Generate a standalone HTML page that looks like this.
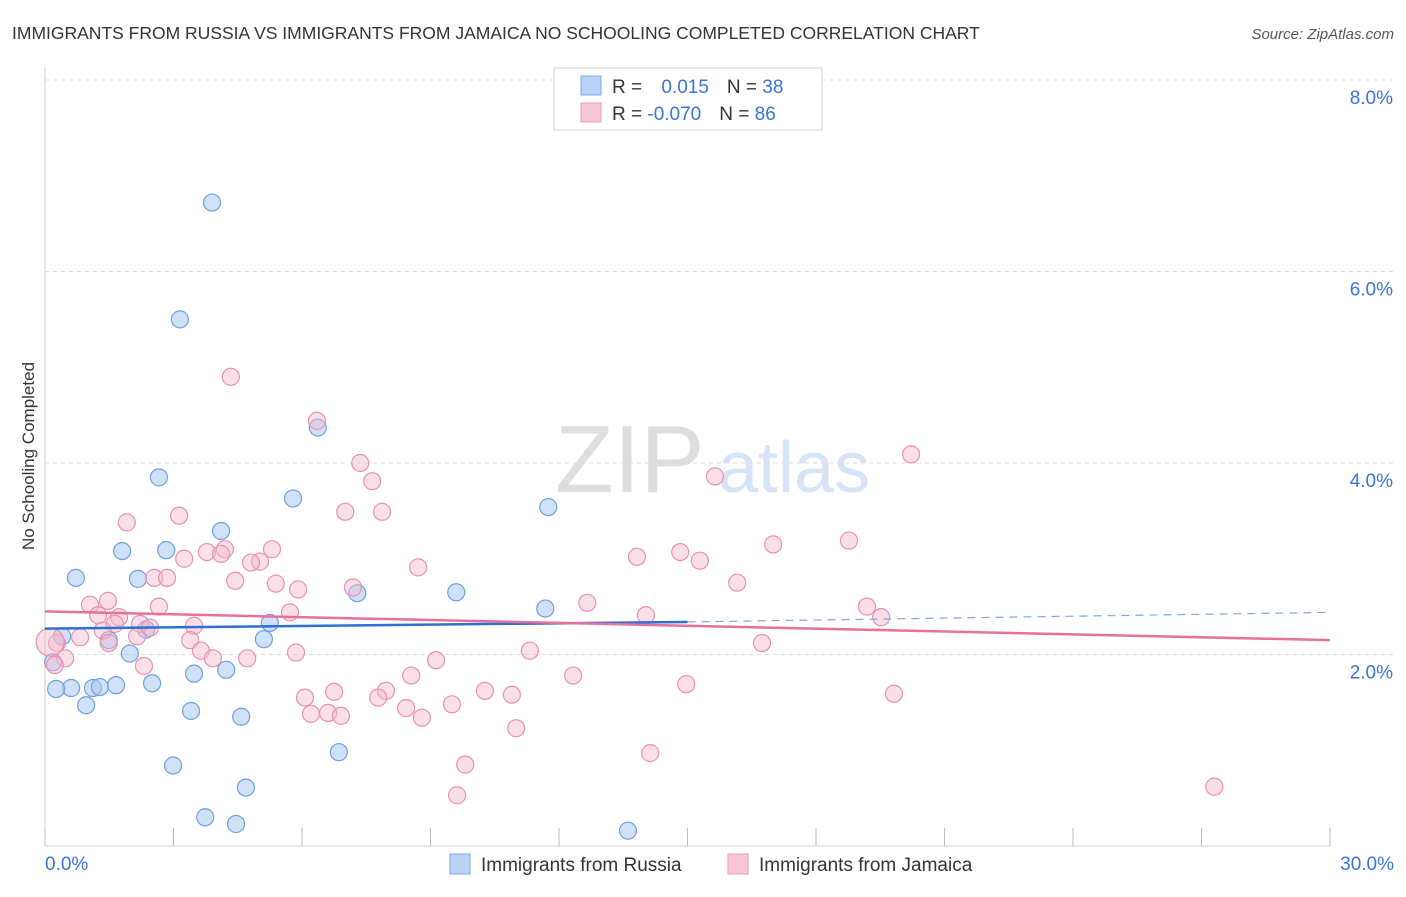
<!DOCTYPE html>
<html><head><meta charset="utf-8"><style>
body{margin:0;background:#fff;font-family:"Liberation Sans",sans-serif;}
svg text{font-family:"Liberation Sans",sans-serif;}
</style></head><body>
<svg id="chart" width="1406" height="892" viewBox="0 0 1406 892">
<text x="12" y="39" font-size="17.5" fill="#333">IMMIGRANTS FROM RUSSIA VS IMMIGRANTS FROM JAMAICA NO SCHOOLING COMPLETED CORRELATION CHART</text>
<text x="1394" y="39" font-size="15" fill="#555" font-style="italic" text-anchor="end">Source: ZipAtlas.com</text>
<text x="34" y="456" font-size="17" fill="#333" text-anchor="middle" transform="rotate(-90 34 456)">No Schooling Completed</text>
<g><text x="555" y="492" font-size="96" fill="#ddd" font-family="Liberation Serif">ZIP</text><text x="718" y="492" font-size="72" fill="#d4e3f5">atlas</text></g>
<g id="grid"></g><g id="pts"></g><g id="trend"></g>
<g>
<rect x="554" y="68" width="268" height="62" fill="#fff" stroke="#ccc"/>
<rect x="581" y="76" width="20" height="19" fill="#b8d3f5" stroke="#7aa8e0"/>
<rect x="581" y="103" width="20" height="19" fill="#f8c6d6" stroke="#ec9ab6"/>
<text x="612" y="93" font-size="19" fill="#333">R = <tspan fill="#3b74d4" dx="14">0.015</tspan><tspan dx="18" fill="#333">N = </tspan><tspan fill="#3b74d4">38</tspan></text>
<text x="612" y="120" font-size="19" fill="#333">R = <tspan fill="#3b74d4">-0.070</tspan><tspan dx="18" fill="#333">N = </tspan><tspan fill="#3b74d4">86</tspan></text>
</g>
<g>
<rect x="450" y="854" width="20" height="20" fill="#b8d3f5" stroke="#7aa8e0"/>
<text x="481" y="871" font-size="19" fill="#333">Immigrants from Russia</text>
<rect x="728" y="854" width="20" height="20" fill="#f8c6d6" stroke="#ec9ab6"/>
<text x="759" y="871" font-size="19" fill="#333">Immigrants from Jamaica</text>
</g>
</svg>
<script>
const xTicks=[0,3,6,9,12,15,18,21,24,27,30];
const yTicks=[2,4,6,8];
const xEndLabels=["0.0%","30.0%"];
const russiaX=[3.90,3.15,6.37,2.66,5.79,11.75,4.11,1.80,2.83,0.72,2.17,7.29,9.60,11.68,5.25,2.36,0.40,5.11,1.49,1.98,0.19,4.23,3.48,2.50,0.61,0.26,1.12,1.28,1.66,0.96,3.41,4.58,6.86,2.99,4.69,3.74,4.46,13.61];
const russiaY=[6.72,5.50,4.37,3.85,3.63,3.54,3.29,3.08,3.09,2.80,2.79,2.64,2.65,2.48,2.33,2.26,2.19,2.16,2.15,2.01,1.92,1.84,1.80,1.70,1.65,1.64,1.65,1.66,1.68,1.47,1.41,1.35,0.98,0.84,0.61,0.30,0.23,0.16];
const jamaicaX=[4.34,6.35,7.36,20.22,15.64,7.64,3.13,7.01,7.87,1.91,4.20,3.78,4.11,5.30,17.00,18.77,13.82,14.83,15.29,3.25,5.02,4.81,8.71,2.55,2.85,4.44,5.39,5.91,7.19,16.16,1.47,1.05,2.66,12.66,5.72,14.03,19.19,19.52,1.24,1.73,1.63,2.22,1.35,3.48,2.15,2.45,3.39,0.82,0.28,1.49,0.47,3.64,3.92,4.72,5.86,9.13,11.32,16.74,2.31,0.23,8.55,12.33,14.97,6.75,7.96,10.27,10.90,6.07,7.78,19.82,8.43,9.50,6.21,6.61,6.91,8.80,11.00,9.81,14.13,9.62,27.30,0.12];
const jamaicaY=[4.90,4.44,4.00,4.09,3.86,3.81,3.45,3.49,3.49,3.38,3.10,3.07,3.05,3.10,3.15,3.19,3.02,3.07,2.98,3.00,2.97,2.96,2.91,2.80,2.80,2.77,2.74,2.68,2.70,2.75,2.56,2.52,2.50,2.54,2.44,2.41,2.50,2.39,2.41,2.39,2.32,2.32,2.25,2.30,2.19,2.28,2.15,2.18,2.12,2.12,1.96,2.04,1.96,1.96,2.02,1.94,2.04,2.12,1.88,1.89,1.78,1.78,1.69,1.61,1.62,1.62,1.58,1.55,1.55,1.59,1.44,1.48,1.38,1.39,1.36,1.34,1.23,0.85,0.97,0.53,0.62,2.13];
const russiaTrend=[2.27,2.34,2.44];
const jamaicaTrend=[2.45,2.15];
const NS="http://www.w3.org/2000/svg";
const sx=v=>45+v*1285/30, sy=v=>846-v*95.75;
function mk(t,a,p){const e=document.createElementNS(NS,t);for(const k in a)e.setAttribute(k,a[k]);p.appendChild(e);return e;}
const grid=document.getElementById('grid');
mk('line',{x1:45,y1:68,x2:45,y2:846,stroke:'#ccc'},grid);
mk('line',{x1:45,y1:846,x2:1330,y2:846,stroke:'#ccc'},grid);
yTicks.forEach(t=>{
 const l=mk('line',{x1:45,y1:sy(t),x2:1394,y2:sy(t),stroke:'#ddd','stroke-dasharray':'4,4'},grid);
 
 
 const tx=mk('text',{x:1393,y:sy(t)+24,'font-size':19,fill:'#3b74d4','text-anchor':'end'},grid);
 tx.textContent=t.toFixed(1)+'%';
 
 
});
xTicks.forEach(t=>{
 const l=mk('line',{x1:sx(t),y1:828,x2:sx(t),y2:846,stroke:'#bbb'},grid);
 
 
});
[[0,45,'start'],[1,1394,'end']].forEach(([i,x,a])=>{
 const tx=mk('text',{x:x,y:870,'font-size':19,fill:'#3b74d4','text-anchor':a},grid);
 tx.textContent=xEndLabels[i];
 
 
});
const pts=document.getElementById('pts');
russiaX.forEach((x,i)=>{
 const c=mk('circle',{cx:sx(x),cy:sy(russiaY[i]),r:8.5,fill:'rgba(168,200,240,0.55)',stroke:'#6fa0dc','stroke-width':1.2},pts);
 
 
});
jamaicaX.forEach((x,i)=>{
 const big=i===jamaicaX.length-1;
 const c=mk('circle',{cx:sx(x),cy:sy(jamaicaY[i]),r:big?14:8.5,fill:'rgba(244,184,204,0.45)',stroke:'#e890b0','stroke-width':1.2},pts);
 
 
});
const tr=document.getElementById('trend');
const b1=mk('line',{x1:sx(0),y1:sy(russiaTrend[0]),x2:sx(15),y2:sy(russiaTrend[1]),stroke:'#2f6fd0','stroke-width':2.5},tr);


const b2=mk('line',{x1:sx(15),y1:sy(russiaTrend[1]),x2:sx(30),y2:sy(russiaTrend[2]),stroke:'#7aa8e0','stroke-width':1.2,'stroke-dasharray':'8,6'},tr);


const p1=mk('line',{x1:sx(0),y1:sy(jamaicaTrend[0]),x2:sx(30),y2:sy(jamaicaTrend[1]),stroke:'#e8709c','stroke-width':2.5},tr);


</script>
</body></html>
